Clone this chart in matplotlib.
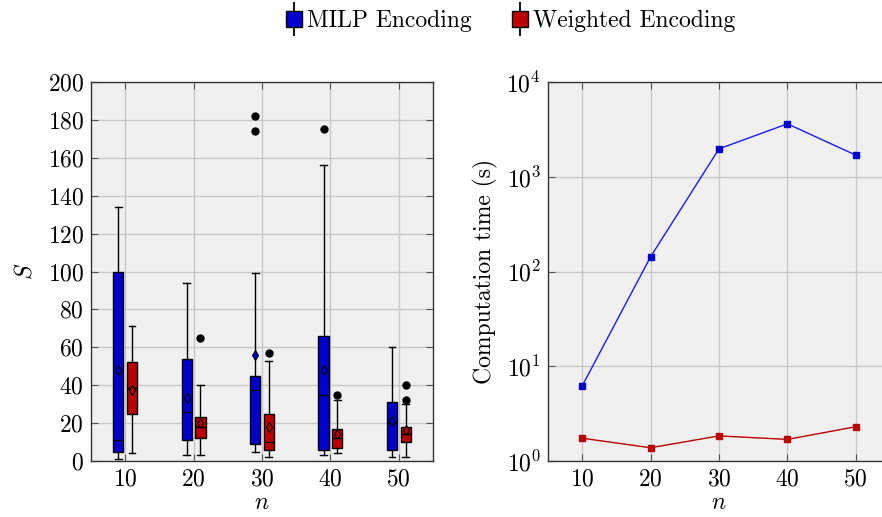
import matplotlib
matplotlib.use("Agg")
import matplotlib.pyplot as plt
from matplotlib.lines import Line2D
from matplotlib.legend_handler import HandlerTuple
from matplotlib.ticker import NullLocator, LogLocator

plt.rcParams["font.family"] = ["cmr10", "DejaVu Serif"]
plt.rcParams["mathtext.fontset"] = "cm"
plt.rcParams["axes.formatter.use_mathtext"] = True
plt.rcParams["font.size"] = 17

# x values (number of items n)
n_values = [10, 20, 30, 40, 50]

# box statistics for S
milp_q1 = [5, 11, 9, 6, 6]
milp_med = [11, 26, 37.5, 35, 20]
milp_q3 = [100, 54, 45, 66, 31]
milp_lo = [1, 3, 5, 3, 2]
milp_hi = [134, 94, 99, 156, 60]
milp_mean = [48, 33, 56, 48, 21]
milp_fliers = [[], [], [174, 182], [175], []]

weighted_q1 = [25, 12, 6, 7, 10]
weighted_med = [38.5, 18, 10, 12, 14]
weighted_q3 = [52, 23, 25, 17, 18]
weighted_lo = [4, 3, 2, 4, 2]
weighted_hi = [71, 40, 53, 32, 30]
weighted_mean = [37.5, 20, 18, 14, 16.5]
weighted_fliers = [[], [65], [57], [35], [32, 40]]

# computation time (s)
milp_time = [6.2, 143, 1970, 3620, 1690]
weighted_time = [1.74, 1.38, 1.84, 1.69, 2.30]

blue = "#0000cc"
red = "#bb0000"
bg = "#f0f0f0"
gridc = "#c8c8c8"


def make_stats(q1, med, q3, lo, hi, mean, fliers):
    stats = []
    for i in range(len(q1)):
        stats.append({"q1": q1[i], "med": med[i], "q3": q3[i], "whislo": lo[i],
                      "whishi": hi[i], "mean": mean[i], "fliers": fliers[i]})
    return stats


def style_axes(ax):
    ax.set_facecolor(bg)
    ax.grid(True, color=gridc, linewidth=1.0)
    ax.set_axisbelow(True)
    ax.tick_params(direction="in", top=True, right=True, length=5, color="#555555", pad=5)
    for s in ax.spines.values():
        s.set_color("#333333")
        s.set_linewidth(1.0)


fig = plt.figure(figsize=(8.82, 5.17), dpi=100)
ax1 = fig.add_axes([91 / 882, 1 - 461 / 517, 342 / 882, 379 / 517])
ax2 = fig.add_axes([548 / 882, 1 - 461 / 517, 342 / 882, 379 / 517])

# left: box plots
for stats, offset, color in [
    (make_stats(milp_q1, milp_med, milp_q3, milp_lo, milp_hi, milp_mean, milp_fliers), -1, blue),
    (make_stats(weighted_q1, weighted_med, weighted_q3, weighted_lo, weighted_hi,
                weighted_mean, weighted_fliers), 1, red),
]:
    ax1.bxp(stats, positions=[n + offset for n in n_values], widths=1.5,
            showmeans=True, patch_artist=True, manage_ticks=False, capwidths=1.0,
            boxprops=dict(facecolor=color, edgecolor="black", linewidth=1.0),
            medianprops=dict(color="black", linewidth=1.0),
            whiskerprops=dict(color="black", linewidth=1.0),
            capprops=dict(color="black", linewidth=1.0),
            meanprops=dict(marker="d", markerfacecolor=color, markeredgecolor="black",
                           markersize=5.5, markeredgewidth=0.8),
            flierprops=dict(marker="o", markerfacecolor="black", markeredgecolor="black",
                            markersize=5))

style_axes(ax1)
ax1.set_xlim(5, 55)
ax1.set_ylim(0, 200)
ax1.set_xticks(n_values)
ax1.set_yticks(range(0, 201, 20))
ax1.set_xlabel("$n$", labelpad=1)
ax1.set_ylabel("$S$", labelpad=8)

# right: computation time
ax2.plot(n_values, milp_time, color="#1a1aff", linewidth=1.0, marker="s", markersize=5,
         markerfacecolor=blue, markeredgecolor=blue)
ax2.plot(n_values, weighted_time, color=red, linewidth=1.0, marker="s", markersize=5,
         markerfacecolor=red, markeredgecolor=red)
ax2.set_yscale("log")
style_axes(ax2)
ax2.set_xlim(5, 55)
ax2.set_ylim(1, 1e4)
ax2.set_xticks(n_values)
ax2.yaxis.set_major_locator(LogLocator(base=10, numticks=10))
ax2.yaxis.set_minor_locator(NullLocator())
ax2.set_xlabel("$n$", labelpad=1)
ax2.set_ylabel("Computation time (s)", labelpad=6)

# legend with box-like handles
handles = []
for color in [blue, red]:
    whisk = Line2D([], [], linestyle="none", marker="|", markersize=24,
                   markeredgecolor="black", markeredgewidth=1.3)
    box = Line2D([], [], linestyle="none", marker="s", markersize=12,
                 markerfacecolor=color, markeredgecolor="black", markeredgewidth=1.0)
    handles.append((whisk, box))
fig.legend(handles, ["MILP Encoding", "Weighted Encoding"],
           handler_map={tuple: HandlerTuple(ndivide=1)},
           loc="upper center", bbox_to_anchor=(0.579, 1.022), ncol=2, frameon=False,
           handlelength=0.7, handletextpad=0.2, columnspacing=1.7, fontsize=17)

fig.savefig("out.png", dpi=100)
